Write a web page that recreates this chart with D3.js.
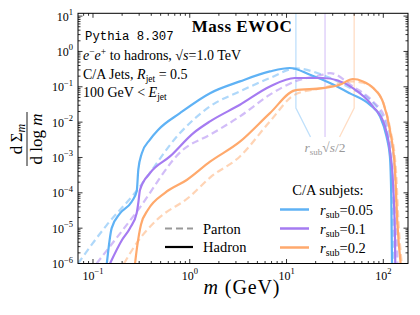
<!DOCTYPE html>
<html>
<head>
<meta charset="utf-8">
<script src="https://cdn.jsdelivr.net/npm/d3@7"></script>
<style>
body { margin: 0; background: #fff; }
text { font-family: "Liberation Serif", "DejaVu Serif", serif; fill: #000; }
</style>
</head>
<body>
<script>
// subjet radii and colours
const subjetRadii = ['0.05', '0.1', '0.2'];
const subjetColors = ['#5fb2f5', '#a57bf1', '#ffa96c'];
const xTickValues = [0.1, 1, 10, 100];
const yTickValues = [1e-6, 1e-5, 1e-4, 1e-3, 1e-2, 1e-1, 1, 10];
const xDomain = [0.07, 180];
const yDomain = [1e-6, 12];

// r_sub * sqrt(s) / 2 markers
const markerMass = [12.5, 25, 50];

// [m (GeV), dSigma/dlog m]
const hadron005 = [[0.139, 1.0e-6], [0.156, 1.0e-5], [0.19, 2.6e-5], [0.251, 5.6e-5], [0.283, 1.1e-4],
  [0.294, 4.5e-4], [0.319, 1.3e-3], [0.388, 3.2e-3], [0.473, 6.1e-3], [0.792, 0.018], [1.62, 0.066],
  [3.30, 0.142], [6.74, 0.272], [10.8, 0.34], [17.5, 0.22], [28.1, 0.128], [45.2, 0.065],
  [72.6, 0.031], [92.3, 0.0145], [108, 0.0039], [117, 1.07e-3], [121, 6.3e-5], [123, 1.0e-6]];
const parton005 = [[0.07, 1.0e-6], [0.138, 1.2e-5], [0.272, 1.0e-4], [0.792, 4.9e-3], [1.62, 0.028],
  [3.30, 0.074], [6.74, 0.177], [12.5, 0.33], [23.8, 0.215], [45.2, 0.093], [72.6, 0.043],
  [92.3, 0.0195], [109, 6.0e-3], [119, 1.2e-3], [125, 1.2e-4], [128, 1.0e-6]];
const hadron01 = [[0.150, 1.0e-6], [0.20, 4.7e-6], [0.241, 1.0e-5], [0.283, 2.7e-5], [0.294, 5.2e-5],
  [0.306, 1.2e-4], [0.388, 3.6e-4], [0.624, 1.07e-3], [1.09, 4.9e-3], [1.62, 0.0105], [3.30, 0.031],
  [6.74, 0.102], [12.2, 0.177], [23.8, 0.177], [48.5, 0.092], [78.1, 0.028], [104, 7.6e-3],
  [117, 1.6e-3], [126, 1.9e-4], [132, 5.6e-6], [133, 1.0e-6]];
const parton01 = [[0.109, 1.0e-6], [0.283, 2.9e-5], [0.85, 1.65e-3], [1.62, 4.4e-3], [3.30, 0.0145],
  [6.74, 0.060], [12.2, 0.142], [23.8, 0.22], [28.1, 0.245], [48.5, 0.102], [78.1, 0.0385],
  [104, 0.013], [120, 3.2e-3], [132, 3.2e-4], [137, 1.3e-5], [140, 1.0e-6]];
const hadron02 = [[0.272, 1.0e-6], [0.285, 2.8e-6], [0.313, 1.25e-5], [0.37, 3.3e-5], [0.555, 1.0e-4],
  [0.93, 2.3e-4], [1.62, 7.6e-4], [3.30, 2.8e-3], [6.74, 0.018], [12.2, 0.079], [23.8, 0.092],
  [35.6, 0.114], [48.5, 0.166], [61.6, 0.142], [78.7, 0.092], [100, 0.035], [117, 6.0e-3],
  [132, 4.5e-4], [140, 1.3e-5], [151, 1.0e-6]];
const parton02 = [[0.209, 1.0e-6], [0.285, 3.9e-6], [0.455, 1.7e-5], [1.0, 7.8e-5], [1.62, 2.7e-4],
  [3.30, 1.07e-3], [6.74, 0.0105], [12.2, 0.060], [23.8, 0.093], [48.5, 0.142], [61.6, 0.13],
  [78.7, 0.092], [100, 0.035], [117, 6.9e-3], [135, 4.5e-4], [144, 1.25e-5], [155, 1.0e-6]];

const hadronCurves = [hadron005, hadron01, hadron02];
const partonCurves = [parton005, parton01, parton02];

const width = 420;
const height = 315;
const margin = {left: 78, right: 12, top: 13.3, bottom: 51.5};
const plotW = width - margin.left - margin.right;
const plotH = height - margin.top - margin.bottom;

const svg = d3.select('body').append('svg')
    .attr('width', width)
    .attr('height', height)
    .attr('font-family', '"Liberation Serif", "DejaVu Serif", serif');

const x = d3.scaleLog().domain(xDomain).range([margin.left, margin.left + plotW]);
const y = d3.scaleLog().domain(yDomain).range([margin.top + plotH, margin.top]);

svg.append('clipPath').attr('id', 'plotClip')
  .append('rect')
    .attr('x', margin.left).attr('y', margin.top)
    .attr('width', plotW).attr('height', plotH);

const plot = svg.append('g').attr('clip-path', 'url(#plotClip)');

// marker lines
const yKink = 0.025, yEnd = 0.0038;
markerMass.forEach(function(m, i) {
    const endM = 25 * Math.pow(10, (i - 1) * 0.15);
    const pts = [[m, yDomain[1]], [m, yKink], [endM, yEnd]];
    plot.append('path')
        .attr('d', d3.line().x(d => x(d[0])).y(d => y(d[1]))(pts))
        .attr('fill', 'none')
        .attr('stroke', subjetColors[i])
        .attr('stroke-opacity', 0.4)
        .attr('stroke-width', 1.3);
});

const line = d3.line()
    .x(d => x(d[0]))
    .y(d => y(d[1]))
    .curve(d3.curveMonotoneX);

partonCurves.forEach(function(c, i) {
    plot.append('path')
        .attr('d', line(c))
        .attr('fill', 'none')
        .attr('stroke', subjetColors[i])
        .attr('stroke-opacity', 0.5)
        .attr('stroke-width', 2.2)
        .attr('stroke-dasharray', '7,4');
});

hadronCurves.forEach(function(c, i) {
    plot.append('path')
        .attr('d', line(c))
        .attr('fill', 'none')
        .attr('stroke', subjetColors[i])
        .attr('stroke-width', 2.2);
});

// frame
svg.append('rect')
    .attr('x', margin.left).attr('y', margin.top)
    .attr('width', plotW).attr('height', plotH)
    .attr('fill', 'none').attr('stroke', '#000').attr('stroke-width', 1);

// ticks (inward, all four sides)
function minorTicks(domain) {
    const out = [];
    for (let e = -7; e <= 3; e++) {
        for (let k = 2; k <= 9; k++) {
            const v = k * Math.pow(10, e);
            if (v > domain[0] && v < domain[1]) out.push(v);
        }
    }
    return out;
}
const ticks = svg.append('g').attr('stroke', '#000').attr('stroke-width', 0.8);
function addTicks(values, len) {
    values.forEach(function(v) {
        ticks.append('line').attr('x1', x(v)).attr('x2', x(v))
            .attr('y1', margin.top + plotH).attr('y2', margin.top + plotH - len);
        ticks.append('line').attr('x1', x(v)).attr('x2', x(v))
            .attr('y1', margin.top).attr('y2', margin.top + len);
    });
}
function addYTicks(values, len) {
    values.forEach(function(v) {
        ticks.append('line').attr('y1', y(v)).attr('y2', y(v))
            .attr('x1', margin.left).attr('x2', margin.left + len);
        ticks.append('line').attr('y1', y(v)).attr('y2', y(v))
            .attr('x1', margin.left + plotW).attr('x2', margin.left + plotW - len);
    });
}
addTicks(xTickValues, 4.5);
addTicks(minorTicks(xDomain), 2.5);
addYTicks(yTickValues, 4.5);
addYTicks(minorTicks(yDomain), 2.5);

function powerLabel(sel, v) {
    const e = Math.round(Math.log10(v));
    sel.append('tspan').text('10');
    sel.append('tspan').attr('dy', -5.5).attr('font-size', 8.5)
        .text(e < 0 ? '\u2212' + (-e) : String(e));
}

xTickValues.forEach(function(v) {
    const t = svg.append('text')
        .attr('x', x(v)).attr('y', 279.5)
        .attr('text-anchor', 'middle')
        .attr('font-size', 12);
    powerLabel(t, v);
});
yTickValues.forEach(function(v) {
    const t = svg.append('text')
        .attr('x', 73).attr('y', y(v) + 4.5)
        .attr('text-anchor', 'end')
        .attr('font-size', 12);
    powerLabel(t, v);
});

// axis labels
const xl = svg.append('text')
    .attr('x', 242).attr('y', 294)
    .attr('text-anchor', 'middle')
    .attr('font-size', 20)
    .attr('letter-spacing', 0.9);
xl.append('tspan').attr('font-style', 'italic').text('m');
xl.append('tspan').text(' (GeV)');

const yl = svg.append('g').attr('transform', 'translate(27,139) rotate(-90)');
yl.append('line').attr('x1', -27).attr('x2', 27).attr('stroke', '#000').attr('stroke-width', 0.9);
const num = yl.append('text').attr('y', -5).attr('text-anchor', 'middle').attr('font-size', 17);
num.append('tspan').text('d\u2009\u03a3');
num.append('tspan').attr('font-style', 'italic').attr('font-size', 12).attr('dy', 3).text('m');
const den = yl.append('text').attr('y', 15).attr('text-anchor', 'middle').attr('font-size', 17);
den.append('tspan').text('d log ');
den.append('tspan').attr('font-style', 'italic').text('m');

// title and info text
svg.append('text')
    .attr('x', 242).attr('y', 31.5)
    .attr('text-anchor', 'middle')
    .attr('font-size', 17)
    .attr('font-weight', 'bold')
    .attr('letter-spacing', 0.5)
    .text('Mass EWOC');

svg.append('text')
    .attr('x', 85).attr('y', 39.5)
    .style('font-family', '"Liberation Mono", "DejaVu Sans Mono", monospace')
    .attr('font-size', 12.3)
    .text('Pythia 8.307');

const l2 = svg.append('text').attr('x', 83).attr('y', 60).attr('font-size', 14);
l2.append('tspan').attr('font-style', 'italic').text('e');
l2.append('tspan').attr('font-size', 9.5).attr('dy', -5).text('\u2212');
l2.append('tspan').attr('font-style', 'italic').attr('dy', 5).text('e');
l2.append('tspan').attr('font-size', 9.5).attr('dy', -5).text('+');
l2.append('tspan').attr('dy', 5).text(' to hadrons, \u221a');
l2.append('tspan').attr('font-style', 'italic').text('s');
l2.append('tspan').text('=1.0 TeV');

const l3 = svg.append('text').attr('x', 83).attr('y', 78.5).attr('font-size', 14);
l3.append('tspan').text('C/A Jets, ');
l3.append('tspan').attr('font-style', 'italic').text('R');
l3.append('tspan').attr('font-size', 9.5).attr('dy', 3).text('jet');
l3.append('tspan').attr('dy', -3).text(' = 0.5');

const l4 = svg.append('text').attr('x', 83).attr('y', 97).attr('font-size', 14);
l4.append('tspan').text('100 GeV < ');
l4.append('tspan').attr('font-style', 'italic').text('E');
l4.append('tspan').attr('font-size', 9.5).attr('dy', 3).text('jet');

// marker label
const ml = svg.append('text')
    .attr('x', 325).attr('y', 152)
    .attr('text-anchor', 'middle')
    .attr('font-size', 13.5)
    .style('fill', '#999');
ml.append('tspan').attr('font-style', 'italic').text('r');
ml.append('tspan').attr('font-size', 9).attr('dy', 2.5).text('sub');
ml.append('tspan').attr('dy', -2.5).text('\u221a');
ml.append('tspan').attr('font-style', 'italic').text('s');
ml.append('tspan').text('/2');

// parton / hadron legend
const styleLegend = [['Parton', '#999', '7,4'], ['Hadron', '#000', null]];
styleLegend.forEach(function(d, i) {
    const yy = 228.5 + i * 18.5;
    svg.append('line')
        .attr('x1', 165).attr('x2', 193).attr('y1', yy).attr('y2', yy)
        .attr('stroke', d[1]).attr('stroke-width', 2.2)
        .attr('stroke-dasharray', d[2]);
    svg.append('text')
        .attr('x', 203).attr('y', yy + 5)
        .attr('font-size', 14.5)
        .text(d[0]);
});

// subjet legend
svg.append('text')
    .attr('x', 328).attr('y', 195)
    .attr('text-anchor', 'middle')
    .attr('font-size', 14.5)
    .text('C/A subjets:');
subjetRadii.forEach(function(r, i) {
    const yy = 209.5 + i * 19;
    svg.append('line')
        .attr('x1', 280).attr('x2', 309).attr('y1', yy).attr('y2', yy)
        .attr('stroke', subjetColors[i]).attr('stroke-width', 2.5);
    const t = svg.append('text').attr('x', 320).attr('y', yy + 5).attr('font-size', 14.5);
    t.append('tspan').attr('font-style', 'italic').text('r');
    t.append('tspan').attr('font-size', 10).attr('dy', 3).text('sub');
    t.append('tspan').attr('dy', -3).text('=' + r);
});
</script>
</body>
</html>
